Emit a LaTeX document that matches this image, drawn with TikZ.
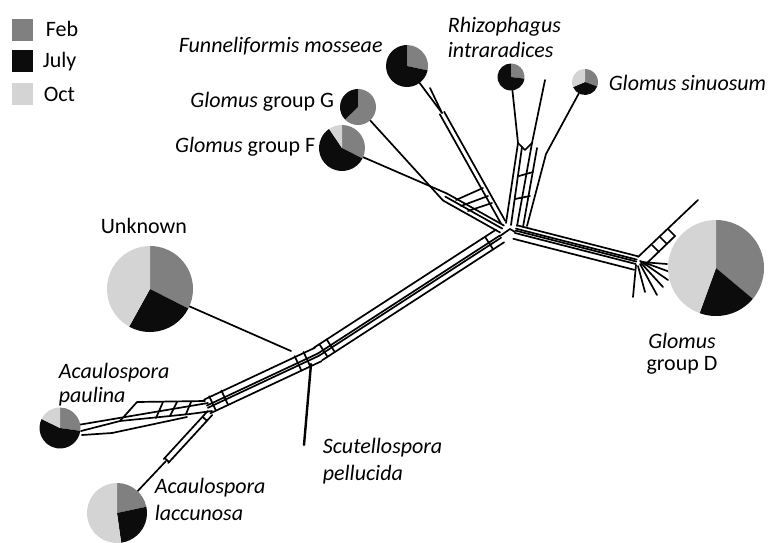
\documentclass[tikz,border=0pt]{standalone}
\usepackage{fontspec}
\setmainfont{Carlito}
\usetikzlibrary{calc}
\definecolor{febc}{RGB}{128,128,128}
\definecolor{julc}{RGB}{12,12,12}
\definecolor{octc}{RGB}{212,212,212}
% pie: node name, radius, end of Feb slice, end of July slice (visual angles, clockwise from top)
\newcommand\piec[4]{%
  \fill[febc] (#1.center) -- ++(-90:#2) arc[start angle=-90, end angle={-(#3)}, radius=#2] -- cycle;
  \fill[julc] (#1.center) -- ++({-(#3)}:#2) arc[start angle={-(#3)}, end angle={-(#4)}, radius=#2] -- cycle;
  \fill[octc] (#1.center) -- ++({-(#4)}:#2) arc[start angle={-(#4)}, end angle=270, radius=#2] -- cycle;
}
\newcommand\bund[3]{\foreach \o in {#3}{\draw ($(#1)!\o!90:(#2)$) -- ($(#2)!\o!-90:(#1)$);}}
\newcommand\rung[4]{\draw ($(#1)!#3!(#2)!#4!90:(#2)$) -- ($(#1)!#3!(#2)!-#4!90:(#2)$);}
\begin{document}
\begin{tikzpicture}[x=1pt,y=1pt,yscale=-1,line width=1.7pt,line cap=round,line join=round,
  lab/.style={font=\fontsize{22}{26}\selectfont, inner sep=0pt, text=black},
  legsq/.style={minimum width=21pt, minimum height=22pt, inner sep=0pt},
  pienode/.style={circle, inner sep=0pt, outer sep=0pt}]
\useasboundingbox (0,0) rectangle (779,542);

% legend
\node[legsq, fill=febc] (lgF) at (22.5,30) {};
\node[legsq, fill=julc] (lgJ) at (22.5,61) {};
\node[legsq, fill=octc] (lgO) at (22.5,94) {};
\node[lab, anchor=base west] (tF) at (45,36) {Feb};
\node[lab, anchor=base west] (tJ) at (42,67) {July};
\node[lab, anchor=base west] (tO) at (43,101) {Oct};

% pie nodes
\node[pienode, minimum size=42pt] (pM) at (407,66) {};
\node[pienode, minimum size=36pt] (pG) at (358,107) {};
\node[pienode, minimum size=46pt] (pF) at (342,148) {};
\node[pienode, minimum size=27pt] (pR) at (511,77) {};
\node[pienode, minimum size=26pt] (pS) at (585,82) {};
\node[pienode, minimum size=86pt] (pU) at (150,289) {};
\node[pienode, minimum size=96pt] (pD) at (716,268) {};
\node[pienode, minimum size=41pt] (pP) at (60,428) {};
\node[pienode, minimum size=60pt] (pL) at (117,513) {};

% labels
\node[lab, anchor=base west] (lM) at (178,52) {\textit{Funneliformis mosseae}};
\node[lab, anchor=base east] (lG) at (335,107) {\textit{Glomus} group G};
\node[lab, anchor=base east] (lFF) at (316,152) {\textit{Glomus} group F};
\node[lab, anchor=base west] (lR1) at (447,32) {\textit{Rhizophagus}};
\node[lab, anchor=base west] (lR2) at (447,57) {\textit{intraradices}};
\node[lab, anchor=base west] (lS) at (608,90) {\textit{Glomus sinuosum}};
\node[lab, anchor=base west] (lU) at (100,233) {Unknown};
\node[lab, anchor=base] (lD1) at (682,348) {\textit{Glomus}};
\node[lab, anchor=base] (lD2) at (682,370) {group D};
\node[lab, anchor=base west] (lP1) at (58,378) {\textit{Acaulospora}};
\node[lab, anchor=base west] (lP2) at (58,402) {\textit{paulina}};
\node[lab, anchor=base west] (lL1) at (154,493) {\textit{Acaulospora}};
\node[lab, anchor=base west] (lL2) at (154,520) {\textit{laccunosa}};
\node[lab, anchor=base west] (lSc1) at (322,453) {\textit{Scutellospora}};
\node[lab, anchor=base west] (lSc2) at (322,480) {\textit{pellucida}};

% ---------- network ----------
\coordinate (hub) at (510,229);
% main trunk
\coordinate (tA) at (500,236);
\coordinate (tB) at (318,354);
\bund{tA}{tB}{-7.5pt,-2pt,0.5pt,7.5pt}
\draw (hub) -- (tA);
\rung{tA}{tB}{0.93}{7.5pt}
\rung{tA}{tB}{0.97}{7.5pt}
\rung{tA}{tB}{0.06}{7.5pt}
% lower trunk
\coordinate (lA) at (318,354);
\coordinate (lB) at (207,406);
\bund{lA}{lB}{-8pt,-2pt,0.5pt,7pt}
\rung{lA}{lB}{0.1}{8pt}
\rung{lA}{lB}{0.18}{8pt}
\rung{lA}{lB}{0.84}{8pt}
\rung{lA}{lB}{0.95}{8pt}
% Unknown
\coordinate (j1) at (291,351);
\draw (pU) -- (j1);
% Scutellospora
\coordinate (sc1) at (311,364);
\coordinate (sc2) at (304,445);
\draw[line width=2.4pt] (sc1) -- (sc2);
% Acaulospora paulina
\coordinate (pa1) at (208,403);
\coordinate (pa2) at (190,414);
\coordinate (pa3) at (212,411);
\coordinate (pa4) at (120,421);
\coordinate (pa5) at (137,402);
\coordinate (pa6) at (205,401);
\draw (pP) -- (pa1);
\draw (81,431) -- (pa4) -- (pa2) -- (pa3);
\draw (82,435) -- (112,433) -- (187,417);
\draw (pa4) -- (pa5) -- (pa6);
\draw (163,402) -- (156,418);
\draw (177,402) -- (170,416);
\draw (191,402) -- (186,414);
% Acaulospora laccunosa
\coordinate (lcA) at (210,413);
\coordinate (lcB) at (166,461);
\bund{lcA}{lcB}{-3pt,3pt}
\rung{lcA}{lcB}{0.98}{3pt}
\rung{lcA}{lcB}{0.12}{3pt}
\draw (pL) -- (lcB);
% Glomus groups F and G
\coordinate (uA) at (445,197);
\coordinate (uB) at (502,229);
\bund{uA}{uB}{-4pt,-0.5pt,4pt}
\draw (pG) -- ($(uA)!4pt!90:(uB)$);
\draw (pF) -- ($(uA)!-4pt!90:(uB)$);
% Funneliformis mosseae
\coordinate (mx) at (430,88);
\coordinate (m1) at (442,113);
\coordinate (mB) at (503,222);
\draw (pM) -- (m1);
\draw (mx) -- (m1);
\bund{m1}{mB}{-2.5pt,2.5pt}
\draw (456,200) -- (483,188);
\draw (461,206) -- (488,196);
\draw (468,211) -- (492,203);
% Rhizophagus intraradices
\coordinate (r1) at (518,143);
\coordinate (rx) at (545,80);
\coordinate (r2) at (532,143);
\coordinate (rv) at (525,150);
\draw (pR) -- (r1);
\draw (rx) -- (r2);
\draw (r1) -- (rv) -- (r2);
\draw (r1) -- (506,223);
\draw (522,147) -- (511,225);
\draw (r2) -- (517,226);
\draw (537,148) -- (523,227);
\draw (533,172) -- (519,176);
\draw (530,196) -- (515,199);
% Glomus sinuosum
\coordinate (s1) at (546,154);
\coordinate (s2) at (527,226);
\draw (pS) -- (s1) -- (s2);
% Glomus group D
\coordinate (dA) at (515,232);
\coordinate (dB) at (636,263);
\bund{dA}{dB}{-7pt,-3.5pt,-1.5pt,1pt,7pt}
\draw (hub) -- (dA);
\coordinate (dl) at (698,200);
\coordinate (dc) at (638,257);
\draw (dl) -- (dc);
\coordinate (dl2) at (675,236);
\coordinate (dc2) at (645,265);
\draw (dl2) -- (dc2);
\draw (668,229) -- (675,236);
\draw (660,237) -- (667,244);
\draw (652,245) -- (659,252);
\coordinate (fc) at (636,265);
\draw (fc) -- (633,297);
\draw (638,266) -- (645,292);
\draw (640,264) -- (657,295);
\draw (641,263) -- (663,287);
\draw (642,262) -- (668,280);
\draw (640,261) -- (670,272);
\draw (641,262) -- (667,264);

% pies
\piec{pM}{21pt}{-12}{-270}
\piec{pG}{18pt}{-136}{-270}
\piec{pF}{23pt}{-27}{-236}
\piec{pR}{13.5pt}{-7}{-270}
\piec{pS}{13pt}{-20}{-157}
\piec{pU}{43pt}{-27}{-119}
\piec{pD}{48pt}{-40}{-110}
\piec{pP}{20.5pt}{-8}{-206}
\piec{pL}{30pt}{12}{-82}
\end{tikzpicture}
\end{document}
